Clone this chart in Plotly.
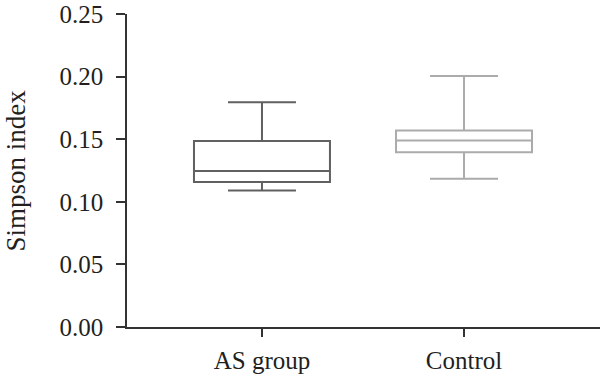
import plotly.graph_objects as go

groups = ["AS group", "Control"]
lower_whisker = [0.109, 0.1185]
q1_values = [0.1158, 0.1395]
median_values = [0.1246, 0.149]
q3_values = [0.1486, 0.157]
upper_whisker = [0.1795, 0.2005]
box_colors = ["#606060", "#ababab"]

y_ticks = [0.0, 0.05, 0.10, 0.15, 0.20, 0.25]
y_tick_text = ["0.00", "0.05", "0.10", "0.15", "0.20", "0.25"]

fig = go.Figure()
for i, g in enumerate(groups):
    fig.add_trace(go.Box(
        x=[g],
        q1=[q1_values[i]], median=[median_values[i]], q3=[q3_values[i]],
        lowerfence=[lower_whisker[i]], upperfence=[upper_whisker[i]],
        width=0.673, whiskerwidth=0.5,
        line=dict(color=box_colors[i], width=2),
        fillcolor="rgba(0,0,0,0)",
        boxpoints=False, showlegend=False, hoverinfo="skip",
    ))

font_family = "Liberation Serif, Times New Roman, serif"
fs = 25
fig.update_layout(
    width=600, height=377,
    margin=dict(l=127, r=0, t=14, b=50),
    paper_bgcolor="white", plot_bgcolor="white",
    font=dict(family=font_family, size=fs, color="#231f20"),
    xaxis=dict(
        type="category", categoryorder="array", categoryarray=groups,
        range=[-0.668, 1.673],
        showline=True, linecolor="#333333", linewidth=1.5,
        ticks="outside", ticklen=8, tickwidth=1.5, tickcolor="#333333",
        showgrid=False, zeroline=False, ticklabelstandoff=2,
        tickfont=dict(size=fs, family=font_family, color="#231f20"),
    ),
    yaxis=dict(
        range=[0, 0.25], tickvals=y_ticks, ticktext=y_tick_text,
        showline=True, linecolor="#333333", linewidth=1.5,
        ticks="outside", ticklen=9, tickwidth=1.5, tickcolor="#333333",
        showgrid=False, zeroline=False, ticklabelstandoff=8,
        tickfont=dict(size=fs, family=font_family, color="#231f20"),
    ),
    annotations=[dict(
        text="Simpson index", textangle=-90, xref="paper", yref="paper",
        x=(15 - 127) / 473, y=0.5, xanchor="center", yanchor="middle",
        showarrow=False, font=dict(size=27, family=font_family, color="#231f20"),
    )],
)

fig.write_html("out.html", config={"displayModeBar": False},
               post_script="document.body.style.margin='0';document.body.style.overflow='hidden';")
